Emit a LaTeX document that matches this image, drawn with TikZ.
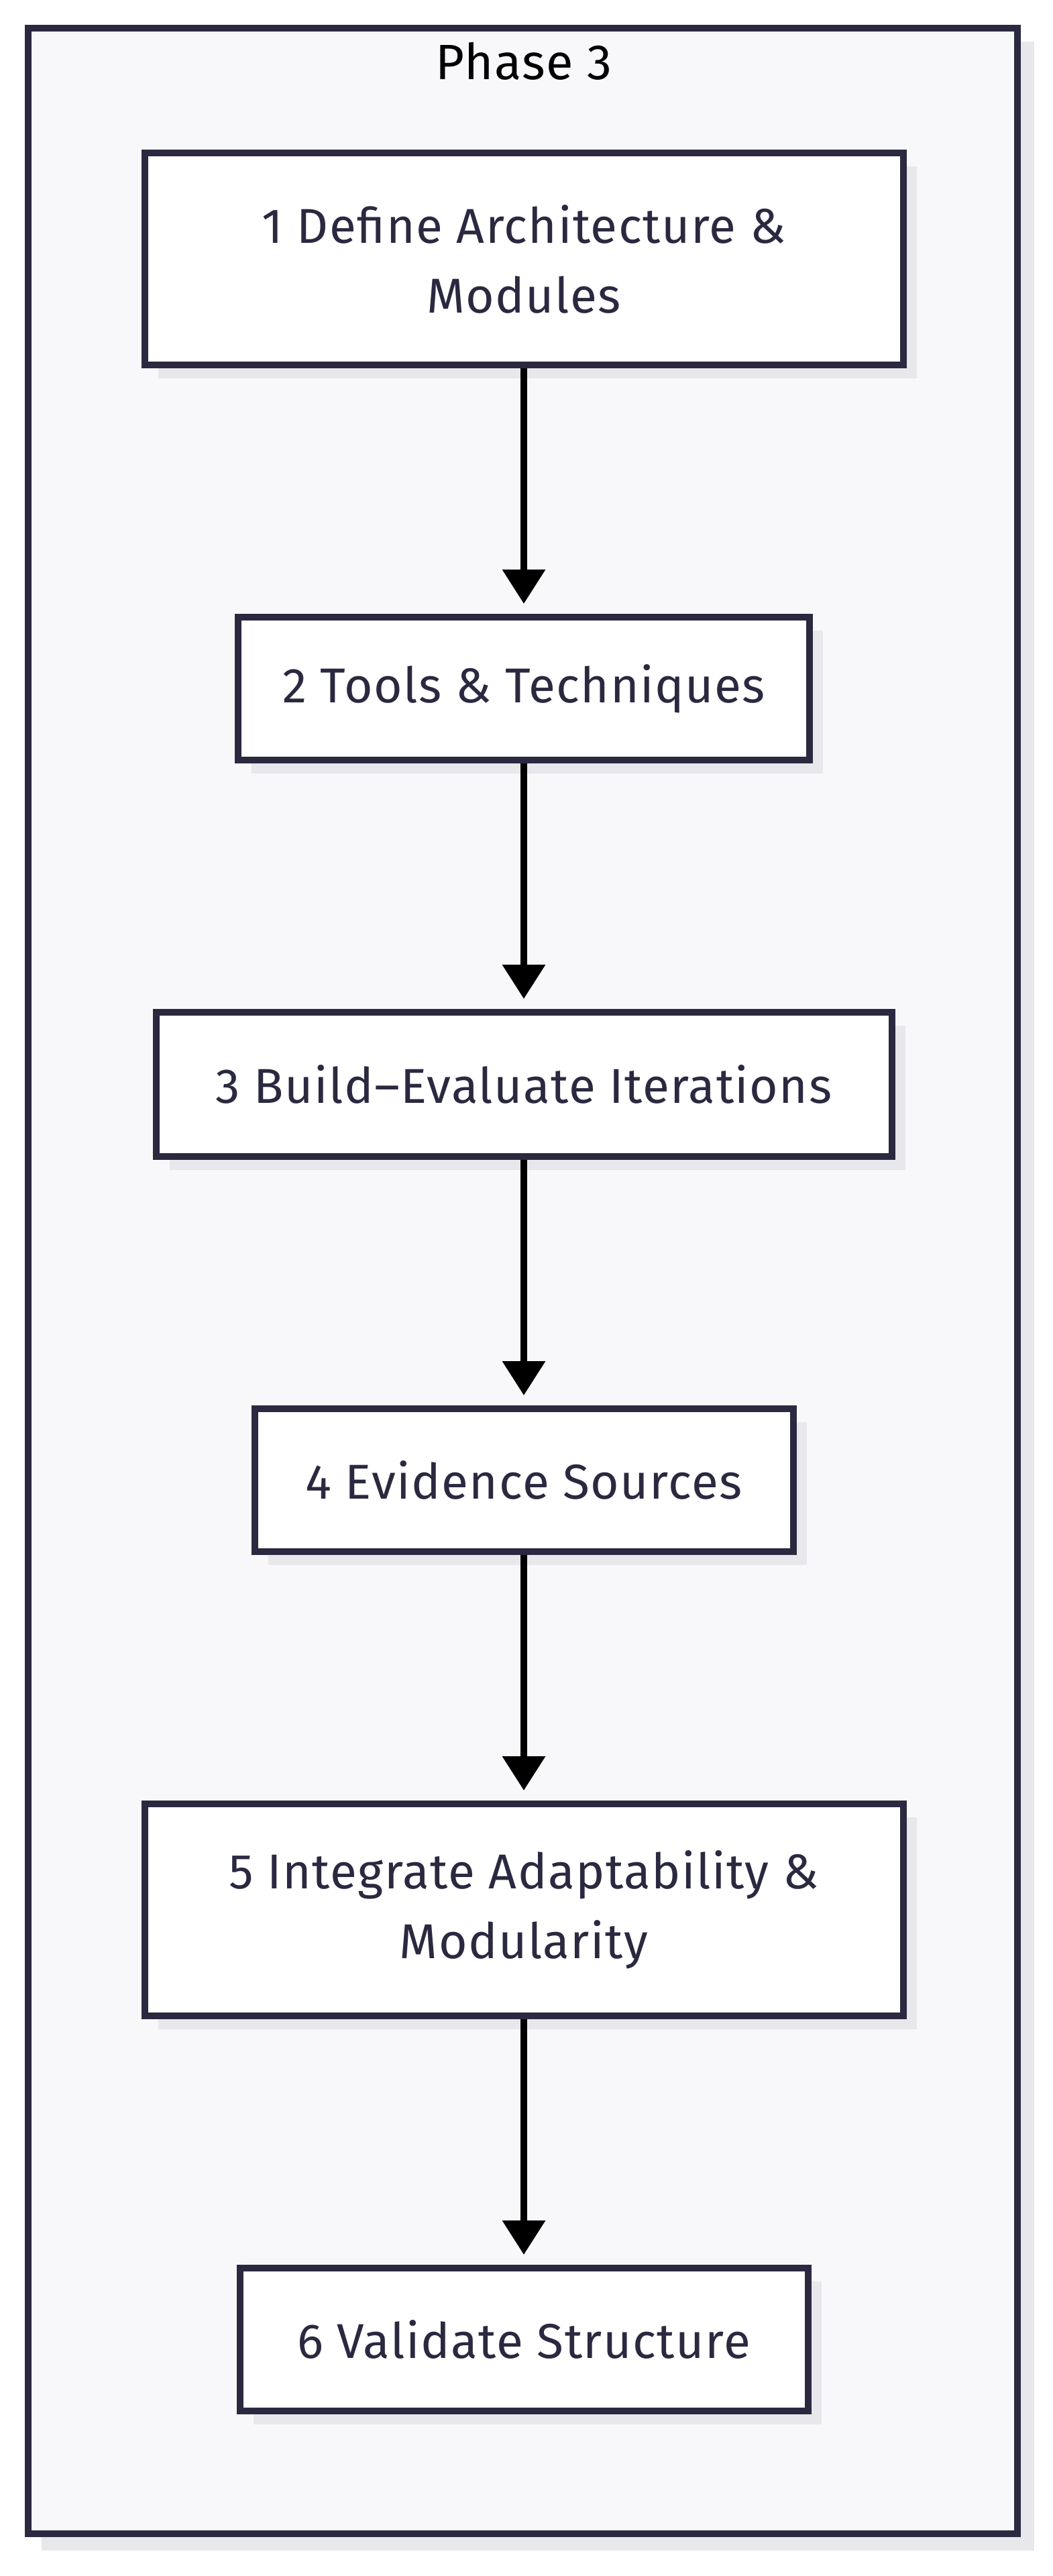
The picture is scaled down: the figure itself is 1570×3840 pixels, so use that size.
\documentclass[tikz,border=0pt]{standalone}
\usepackage{fontspec}
\setmainfont[LetterSpace=2]{Fira Sans}
\usetikzlibrary{positioning,arrows.meta,shadows}
\definecolor{ink}{HTML}{2A2940}
\definecolor{panel}{HTML}{F8F8FA}
\definecolor{shadowgray}{HTML}{E8E8EC}
\tikzset{
  stepbox/.style={draw=ink, fill=white, line width=10pt, text=ink, align=center,
    font=\fontsize{73}{104}\selectfont,
    drop shadow={shadow xshift=20pt, shadow yshift=-20pt, fill=shadowgray, opacity=1}},
  flow/.style={line width=10pt, -{Triangle[length=51pt,width=62pt]}, shorten >=15pt}
}
\begin{document}
\begin{tikzpicture}[x=1pt,y=-1pt,node distance=366pt]
  \useasboundingbox (0,0) rectangle (1570,3840);
  % phase frame
  \fill[shadowgray] (62,62) rectangle (1542,3802);
  \draw[draw=ink,fill=panel,line width=10pt] (42,42) rectangle (1517,3777);
  \node (title) at (781,91) {\fontsize{74}{80}\selectfont Phase 3};

  \node[stepbox, minimum width=1131pt, minimum height=316pt] (define) at (781,386)
    {1 Define Architecture \&\\ Modules};
  \node[stepbox, minimum width=852pt, minimum height=213pt, below=of define] (tools)
    {2 Tools \& Techniques};
  \node[stepbox, minimum width=1097pt, minimum height=215pt, below=of tools] (build)
    {3 Build--Evaluate Iterations};
  \node[stepbox, minimum width=803pt, minimum height=213pt, below=of build] (evidence)
    {4 Evidence Sources};
  \node[stepbox, minimum width=1131pt, minimum height=316pt, below=of evidence] (integrate)
    {5 Integrate Adaptability \&\\ Modularity};
  \node[stepbox, minimum width=847pt, minimum height=213pt, below=of integrate] (validate)
    {6 Validate Structure};

  \draw[flow] (define) -- (tools);
  \draw[flow] (tools) -- (build);
  \draw[flow] (build) -- (evidence);
  \draw[flow] (evidence) -- (integrate);
  \draw[flow] (integrate) -- (validate);
\end{tikzpicture}
\end{document}
